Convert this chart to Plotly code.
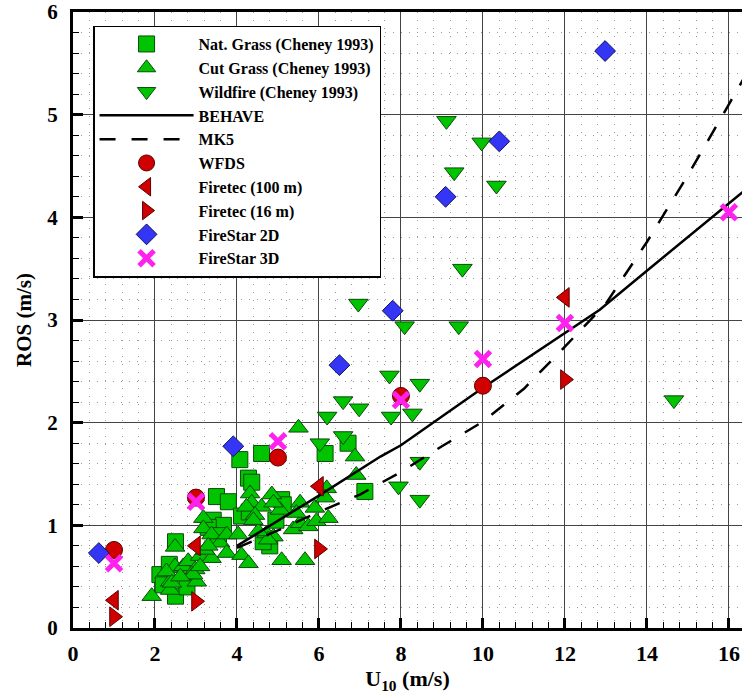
import plotly.graph_objects as go

# ---------------- data ----------------
nat_x = [2.12, 2.20, 2.50, 2.50, 2.78, 2.35, 3.42, 3.67, 3.50, 3.79, 4.07, 4.60,
         4.28, 4.36, 5.09, 4.80, 4.64, 6.15, 6.71, 7.12, 4.11, 4.30, 5.13, 3.30,
         3.55, 2.85, 4.95]
nat_y = [0.52, 0.42, 0.84, 0.31, 0.40, 0.62, 1.05, 1.00, 1.28, 1.23, 1.64, 1.70,
         1.46, 1.42, 1.25, 0.80, 0.84, 1.70, 1.80, 1.33, 1.09, 1.13, 1.20, 0.98,
         0.90, 0.55, 1.05]

cut_x = [1.92, 2.37, 2.37, 2.49, 2.49, 2.69, 2.81, 3.02, 2.98, 3.10, 3.18, 3.18,
         3.38, 3.59, 3.75, 3.38, 4.11, 4.28, 4.32, 4.36, 4.60, 4.85, 4.23, 4.44,
         4.72, 4.89, 5.05, 5.37, 5.54, 5.74, 5.09, 5.66, 5.50, 6.88, 6.91, 5.94,
         6.19, 5.90, 6.23, 4.76, 4.52, 4.89, 2.28, 2.41, 2.93, 3.10, 3.75, 4.03,
         3.22, 4.40, 5.54, 6.15, 5.45, 2.62, 3.30]
cut_y = [0.31, 0.45, 0.37, 0.79, 0.60, 0.60, 0.65, 0.45, 0.57, 0.70, 1.07, 0.97,
         0.91, 0.83, 0.73, 0.68, 0.71, 0.63, 1.31, 1.22, 1.18, 1.30, 1.18, 1.10,
         0.92, 0.89, 1.15, 0.96, 1.02, 0.99, 0.66, 0.66, 1.95, 1.67, 1.49, 1.04,
         1.36, 1.17, 1.07, 0.86, 0.94, 1.22, 0.55, 0.44, 0.52, 0.60, 0.91, 0.91,
         0.76, 1.05, 1.22, 1.27, 1.12, 0.50, 0.80]

wild_x = [9.11, 9.97, 9.30, 10.33, 9.50, 6.96, 8.09, 9.41, 7.72, 8.46, 6.59,
          6.98, 7.76, 8.28, 6.20, 6.02, 6.59, 8.46, 7.94, 8.46, 14.66]
wild_y = [4.94, 4.73, 4.44, 4.31, 3.50, 3.16, 2.94, 2.94, 2.46, 2.38, 2.21,
          2.14, 2.06, 2.09, 2.06, 1.80, 1.87, 1.62, 1.38, 1.25, 2.22]

behave_x = [4.0, 6.0, 7.5, 8.0, 10.0, 12.0, 12.85, 14.0, 16.0, 16.5]
behave_y = [0.80, 1.29, 1.67, 1.78, 2.34, 2.87, 3.10, 3.48, 4.13, 4.30]

mk5_x = [4.0, 5.0, 6.0, 7.0, 8.0, 9.0, 10.0, 11.0, 12.0, 13.0, 14.0, 15.0, 16.0, 16.5]
mk5_y = [0.78, 0.95, 1.13, 1.30, 1.52, 1.77, 2.01, 2.33, 2.74, 3.16, 3.76, 4.41, 5.10, 5.45]

wfds_x = [1.0, 3.0, 5.0, 8.0, 10.0]
wfds_y = [0.76, 1.27, 1.66, 2.26, 2.36]

ft100_x = [1.0, 3.0, 6.0, 12.0]
ft100_y = [0.27, 0.80, 1.38, 3.22]

ft16_x = [1.0, 3.0, 6.0, 12.0]
ft16_y = [0.11, 0.26, 0.77, 2.42]

fs2d_x = [0.63, 3.91, 6.50, 7.80, 9.09, 10.40, 12.98]
fs2d_y = [0.73, 1.77, 2.56, 3.09, 4.20, 4.74, 5.62]

fs3d_x = [1.0, 3.0, 5.0, 8.0, 10.0, 12.0, 16.0]
fs3d_y = [0.63, 1.23, 1.82, 2.22, 2.62, 2.97, 4.05]

x_ticks = [0, 2, 4, 6, 8, 10, 12, 14, 16]
y_ticks = [0, 1, 2, 3, 4, 5, 6]

# ---------------- figure ----------------
GREEN = "#00C400"
GREEN_LINE = "#0A4A0A"
RED = "#D00000"
RED_LINE = "#5A0000"
BLUE = "#3535F5"
BLUE_LINE = "#101060"
MAG = "#FF22EE"
FONT = "Liberation Serif"

fig = go.Figure()

fig.add_trace(go.Scatter(x=nat_x, y=nat_y, mode="markers", name="Nat. Grass (Cheney 1993)",
                         marker=dict(symbol="square", size=16, color=GREEN,
                                     line=dict(color=GREEN_LINE, width=1))))
fig.add_trace(go.Scatter(x=cut_x, y=cut_y, mode="markers", name="Cut Grass (Cheney 1993)",
                         marker=dict(symbol="triangle-up", size=17, color=GREEN,
                                     line=dict(color=GREEN_LINE, width=1))))
fig.add_trace(go.Scatter(x=wild_x, y=wild_y, mode="markers", name="Wildfire (Cheney 1993)",
                         marker=dict(symbol="triangle-down", size=17, color=GREEN,
                                     line=dict(color=GREEN_LINE, width=1))))
fig.add_trace(go.Scatter(x=behave_x, y=behave_y, mode="lines", name="BEHAVE",
                         line=dict(color="black", width=2.5)))
fig.add_trace(go.Scatter(x=mk5_x, y=mk5_y, mode="lines", name="MK5",
                         line=dict(color="black", width=2.5, dash="16px,16px")))
fig.add_trace(go.Scatter(x=wfds_x, y=wfds_y, mode="markers", name="WFDS",
                         marker=dict(symbol="circle", size=17, color=RED,
                                     line=dict(color=RED_LINE, width=1))))
fig.add_trace(go.Scatter(x=ft100_x, y=ft100_y, mode="markers", name="Firetec (100 m)",
                         marker=dict(symbol="triangle-left", size=17, color=RED,
                                     line=dict(color=RED_LINE, width=1))))
fig.add_trace(go.Scatter(x=ft16_x, y=ft16_y, mode="markers", name="Firetec (16 m)",
                         marker=dict(symbol="triangle-right", size=17, color=RED,
                                     line=dict(color=RED_LINE, width=1))))
fig.add_trace(go.Scatter(x=fs2d_x, y=fs2d_y, mode="markers", name="FireStar 2D",
                         marker=dict(symbol="diamond", size=16, color=BLUE,
                                     line=dict(color=BLUE_LINE, width=1))))
fig.add_trace(go.Scatter(x=fs3d_x, y=fs3d_y, mode="markers", name="FireStar 3D",
                         marker=dict(symbol="x-thin", size=15, color=MAG,
                                     line=dict(color=MAG, width=5))))

axis_common = dict(
    showline=True, linecolor="black", linewidth=3,
    ticks="inside", ticklen=10, tickwidth=3, tickcolor="black",
    showgrid=True, gridcolor="#444444", gridwidth=1,
    zeroline=False, automargin=False,
)

fig.update_xaxes(
    range=[0, 16.32], tickvals=x_ticks, ticktext=[str(v) for v in x_ticks],
    mirror=True, ticklabelstandoff=4,
    tickfont=dict(family=FONT, size=22, color="black", weight="bold"),
    minor=dict(dtick=0.4, tick0=0, ticks="inside", ticklen=6, tickwidth=1,
               tickcolor="black", showgrid=True, gridcolor="#9a9a9a",
               griddash="1px,7px", gridwidth=1),
    title=dict(text="U<sub>10</sub> (m/s)", standoff=0,
               font=dict(family=FONT, size=22, color="black", weight="bold")),
    **axis_common)

fig.update_yaxes(
    range=[0, 6], tickvals=y_ticks, ticktext=[str(v) for v in y_ticks],
    ticklabelstandoff=8,
    tickfont=dict(family=FONT, size=21, color="black", weight="bold"),
    minor=dict(dtick=0.2, tick0=0, ticks="inside", ticklen=6, tickwidth=1,
               tickcolor="black", showgrid=True, gridcolor="#9a9a9a",
               griddash="1px,7px", gridwidth=1),
    title=dict(text="ROS (m/s)", standoff=10,
               font=dict(family=FONT, size=21, color="black", weight="bold")),
    **axis_common)

fig.update_layout(
    width=742, height=695,
    margin=dict(l=73, r=0, t=12, b=67),
    paper_bgcolor="white", plot_bgcolor="white",
    showlegend=True,
    legend=dict(
        x=0.03, y=0.978, xanchor="left", yanchor="top",
        bgcolor="white", bordercolor="black", borderwidth=1.5,
        font=dict(family=FONT, size=16, color="black", weight="bold"),
        itemwidth=94, tracegroupgap=0,
    ),
)

fig.write_html("out.html", config={"displayModeBar": False},
               post_script="document.body.style.margin='0px';document.body.style.overflow='hidden';")
